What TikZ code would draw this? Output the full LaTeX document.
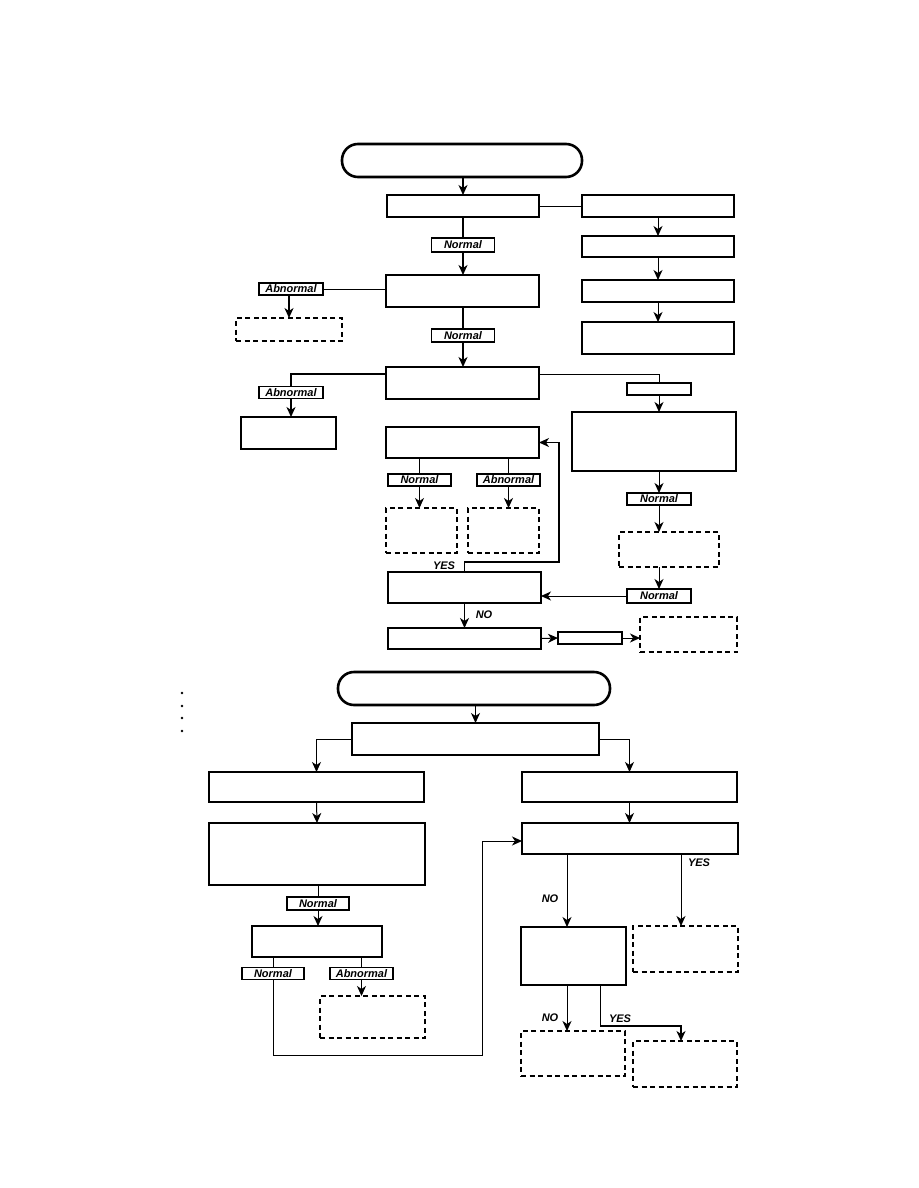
\documentclass[tikz,border=0pt]{standalone}
\usepackage{fontspec}
\setmainfont{Liberation Sans}
\usetikzlibrary{arrows.meta,calc}
\newcommand\mybox[6]{\node[#1, minimum width={(#5)-(#3)}, minimum height={(#6)-(#4)}] (#2) at ({((#3)+(#5))/2},{((#4)+(#6))/2}) {};}
\begin{document}
\begin{tikzpicture}[x=1pt,y=-1pt,
 box/.style={draw, line width=1.2pt, inner sep=0pt, outer sep=0pt},
 dbox/.style={box, line width=1.05pt, dash pattern=on 5pt off 3.5pt},
 term/.style={box, line width=2.6pt, rounded corners=16pt},
 lbl/.style={box, line width=1.3pt, font=\fontsize{11}{12}\selectfont\bfseries\itshape},
 yn/.style={inner sep=0pt, font=\fontsize{11}{12}\selectfont\bfseries\itshape},
 thin/.style={line width=1pt},
 mid/.style={line width=1.5pt},
 thk/.style={line width=1.9pt},
 edge/.style={line width=2.6pt},
 arr/.style={-{Stealth[length=10pt,width=9pt,inset=3pt]}},
]
\useasboundingbox (0,0) rectangle (918,1188);

% ---------- upper chart ----------
\mybox{term}{T1}{342}{144}{582}{177}
\mybox{box}{A1}{387}{195}{539}{217}
\mybox{box}{B1}{582}{195}{734}{217}
\mybox{box}{B2}{582}{236}{734}{257}
\mybox{box}{B3}{582}{280}{734}{302}
\mybox{box}{B4}{582}{322}{734}{354}
\node[lbl, minimum width=63pt, minimum height=14pt] (N1) at (463,245) {Normal};
\mybox{box}{A2}{386}{275}{539}{307}
\node[lbl, minimum width=64pt, minimum height=12pt] (Ab1) at (291,289) {Abnormal};
\mybox{dbox}{D1}{236}{318}{342}{341}
\node[lbl, minimum width=63pt, minimum height=13pt] (N2) at (463,335.5) {Normal};
\mybox{box}{A3}{386}{367}{539}{399}
\node[lbl, minimum width=64pt, minimum height=12pt] (Ab2) at (291,392.5) {Abnormal};
\mybox{box}{L1}{241}{417}{336}{449}
\node[lbl, minimum width=64pt, minimum height=12pt] (S1) at (659,389) {};
\mybox{box}{R1}{572}{412}{736}{471}
\node[lbl, minimum width=64pt, minimum height=12pt] (N3) at (659,499) {Normal};
\mybox{dbox}{D2}{619}{532}{719}{567}
\node[lbl, minimum width=64pt, minimum height=14pt] (N4) at (659,596) {Normal};
\mybox{box}{C1}{386}{427}{539}{458}
\node[lbl, minimum width=63pt, minimum height=12pt] (N5) at (419.5,480) {Normal};
\node[lbl, minimum width=63pt, minimum height=12pt] (Ab3) at (508.5,480) {Abnormal};
\mybox{dbox}{D3}{386}{508}{457}{553}
\mybox{dbox}{D4}{468}{508}{539}{553}
\mybox{box}{Dd}{388}{572}{541}{603}
\mybox{box}{E1}{388}{628}{541}{649}
\node[lbl, minimum width=64pt, minimum height=12pt] (S2) at (590,638) {};
\mybox{dbox}{D5}{640}{617}{737}{652}

\draw[edge] (B4.north west) -- (B4.north east);
\draw[edge] (C1.south west) -- (C1.south east);

\draw[mid,arr] (T1.south -| A1) -- (A1.north);
\draw[thin] (A1.east) -- (B1.west);
\draw[thin,arr] (B1.south) -- (B2.north);
\draw[thin,arr] (B2.south) -- (B3.north);
\draw[thin,arr] (B3.south) -- (B4.north);
\draw[thk] (A1.south) -- (A1.south |- N1.north);
\draw[thk,arr] (N1.south) -- (N1.south |- A2.north);
\draw[thin] (A2.west |- Ab1.east) -- (Ab1.east);
\draw[thk,arr] ($(Ab1.south)+(-2,0)$) -- ($(Ab1.south |- D1.north)+(-2,0)$);
\draw[thk] (A2.south -| N2) -- (N2.north);
\draw[thk,arr] (N2.south) -- (N2.south |- A3.north);
\draw[thk] ($(A3.north west)+(0,7)$) -| (Ab2.north);
\draw[thk,arr] (Ab2.south) -- (Ab2.south |- L1.north);
\draw[thin] ($(A3.north east)+(0,7)$) -| (S1.north);
\draw[thin,arr] (S1.south) -- (S1.south |- R1.north);
\draw[thin,arr] (R1.south -| S1) -- (N3.north);
\draw[thin,arr] (N3.south) -- (N3.south |- D2.north);
\draw[thin,arr] (D2.south -| N4) -- (N4.north);
\draw[thin,arr] (N4.west) -- (N4.west -| Dd.east);
\draw[thin] (C1.south -| N5) -- (N5.north);
\draw[thin,arr] (N5.south) -- (N5.south |- D3.north);
\draw[thk] (C1.south -| Ab3) -- (Ab3.north);
\draw[thk,arr] (Ab3.south) -- (Ab3.south |- D4.north);
\coordinate (y1) at (559,562);
\draw[thk,arr] (Dd.north) -- (Dd.north |- y1) -- (y1) -- (y1 |- C1.east) -- (C1.east);
\node[yn] (yes1) at (444,566) {YES};
\draw[mid,arr] (Dd.south) -- (Dd.south |- E1.north);
\node[yn] (no1) at (484,615) {NO};
\draw[thin,arr] (E1.east) -- (S2.west);
\draw[thin,arr] (S2.east) -- (S2.east -| D5.west);

% ---------- lower chart ----------
\foreach \yy in {693,706,718,731} \fill (182,\yy) circle (1.4pt);

\mybox{term}{T2}{338}{672}{610}{705}
\mybox{box}{M1}{352}{723}{599}{755}
\mybox{box}{M2L}{209}{772}{424}{802}
\mybox{box}{M2R}{522}{772}{737}{802}
\mybox{box}{M3L}{209}{823}{425}{885}
\node[lbl, minimum width=62pt, minimum height=13pt] (NL1) at (318,903.5) {Normal};
\mybox{box}{M4L}{252}{926}{382}{957}
\node[lbl, minimum width=62pt, minimum height=12pt] (NL2) at (273,973.5) {Normal};
\node[lbl, minimum width=63pt, minimum height=12pt] (AbL) at (361.5,973.5) {Abnormal};
\mybox{dbox}{DL}{320}{996}{425}{1038}
\mybox{box}{M3R}{522}{823}{738}{854}
\mybox{box}{M4R}{521}{927}{626}{985}
\mybox{dbox}{DR1}{633}{926}{738}{972}
\mybox{dbox}{DR2}{521}{1031}{625}{1076}
\mybox{dbox}{DR3}{633}{1041}{737}{1087}

\draw[edge] (M2L.south west) -- (M2L.south east);
\draw[edge] (M2R.south west) -- (M2R.south east);
\draw[edge] (M3R.south west) -- (M3R.south east);
\draw[edge] (M4L.north west) -- (M4L.north east);

\draw[mid,arr] (T2.south -| M1) -- (M1.north);
\draw[thin,arr] (M1.west) -| (M2L.north);
\draw[thin,arr] (M1.east) -| (M2R.north);
\draw[thin,arr] (M2L.south) -- (M3L.north);
\draw[thin] (M3L.south -| NL1) -- (NL1.north);
\draw[thin,arr] (NL1.south) -- (NL1.south |- M4L.north);
\draw[thin] (M4L.south -| NL2) -- (NL2.north);
\draw[thin] (M4L.south -| AbL) -- (AbL.north);
\draw[thin,arr] (AbL.south) -- (AbL.south |- DL.north);
\coordinate (lp) at (482,1055);
\draw[thin,arr] (NL2.south) -- (NL2.south |- lp) -- (lp) -- (lp |- 0,841) -- (M3R.west |- 0,841);
\draw[thin,arr] (M2R.south) -- (M2R.south |- M3R.north);
\coordinate (nx) at (567,0);
\coordinate (yx) at (681,0);
\draw[thin,arr] (M3R.south -| nx) -- (M4R.north -| nx);
\draw[thin,arr] (M3R.south -| yx) -- (DR1.north -| yx);
\draw[thin,arr] (M4R.south -| nx) -- (DR2.north -| nx);
\coordinate (yb) at (600,1026);
\draw[thin] (M4R.south -| yb) -- (yb);
\draw[thk,arr] (yb) -- (yb -| yx) -- (DR3.north -| yx);
\node[yn] (no2) at (550,899) {NO};
\node[yn] (yes2) at (699,863) {YES};
\node[yn] (no3) at (550,1018) {NO};
\node[yn] (yes3) at (620,1019) {YES};
\end{tikzpicture}
\end{document}
